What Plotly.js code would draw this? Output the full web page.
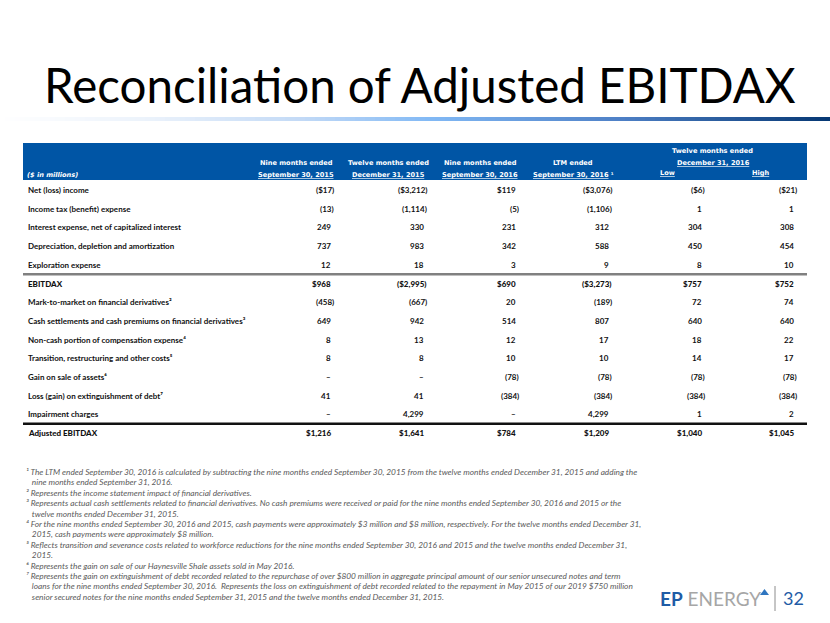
<!DOCTYPE html>
<html><head><meta charset="utf-8">
<script src="https://cdn.plot.ly/plotly-3.0.1.min.js"></script>
<style>html,body{margin:0;padding:0;background:#fff}</style>
</head><body><div id="chart" style="width:830px;height:623px"></div>
<script>
// ---------- DATA ----------
const titleText = "Reconciliation of Adjusted EBITDAX";
const unitsLabel = "($ in millions)";
const rowLabels = [
  "Net (loss) income",
  "Income tax (benefit) expense",
  "Interest expense, net of capitalized interest",
  "Depreciation, depletion and amortization",
  "Exploration expense",
  "EBITDAX",
  "Mark-to-market on financial derivatives²",
  "Cash settlements and cash premiums on financial derivatives³",
  "Non-cash portion of compensation expense⁴",
  "Transition, restructuring and other costs⁵",
  "Gain on sale of assets⁶",
  "Loss (gain) on extinguishment of debt⁷",
  "Impairment charges",
  "Adjusted EBITDAX"
];
const nineMonths2015   = [-17, -13, 249, 737, 12, 968, -458, 649, 8, 8, null, 41, null, 1216];
const twelveMonths2015 = [-3212, -1114, 330, 983, 18, -2995, -667, 942, 13, 8, null, 41, 4299, 1641];
const nineMonths2016   = [119, -5, 231, 342, 3, 690, 20, 514, 12, 10, -78, -384, null, 784];
const ltm2016          = [-3076, -1106, 312, 588, 9, -3273, -189, 807, 17, 10, -78, -384, 4299, 1209];
const fy2016Low        = [-6, 1, 304, 450, 8, 757, 72, 640, 18, 14, -78, -384, 1, 1040];
const fy2016High       = [-21, 1, 308, 454, 10, 752, 74, 640, 22, 17, -78, -384, 2, 1045];
const dollarRows = [0, 5, 13];
const totalRows = [5, 13];
const headerLine1 = ["Nine months ended", "Twelve months ended", "Nine months ended", "LTM ended"];
const headerLine2 = ["September 30, 2015", "December 31, 2015", "September 30, 2016", "September 30, 2016"];
const headerNote = ["", "", "", " ¹"];
const groupHeader = ["Twelve months ended", "December 31, 2016"];
const subHeaders = ["Low", "High"];
const footnotes = [
  "¹ The LTM ended September 30, 2016 is calculated by subtracting the nine months ended September 30, 2015 from the twelve months ended December 31, 2015 and adding the",
  "   nine months ended September 31, 2016.",
  "² Represents the income statement impact of financial derivatives.",
  "³ Represents actual cash settlements related to financial derivatives. No cash premiums were received or paid for the nine months ended September 30, 2016 and 2015 or the",
  "   twelve months ended December 31, 2015.",
  "⁴ For the nine months ended September 30, 2016 and 2015, cash payments were approximately $3 million and $8 million, respectively. For the twelve months ended December 31,",
  "   2015, cash payments were approximately $8 million.",
  "⁵ Reflects transition and severance costs related to workforce reductions for the nine months ended September 30, 2016 and 2015 and the twelve months ended December 31,",
  "   2015.",
  "⁶ Represents the gain on sale of our Haynesville Shale assets sold in May 2016.",
  "⁷ Represents the gain on extinguishment of debt recorded related to the repurchase of over $800 million in aggregate principal amount of our senior unsecured notes and term",
  "   loans for the nine months ended September 30, 2016.  Represents the loss on extinguishment of debt recorded related to the repayment in May 2015 of our 2019 $750 million",
  "   senior secured notes for the nine months ended September 31, 2015 and the twelve months ended December 31, 2015."
];
const logoMark = "EP";
const logoWord = "ENERGY";
const pageNumber = "32";

// ---------- LAYOUT HELPERS ----------
const columns = [nineMonths2015, twelveMonths2015, nineMonths2016, ltm2016, fy2016Low, fy2016High];
const colRight = [333, 426, 518, 611, 704, 796];
const headerCenters = [296, 388, 480, 573];
const subHeaderCenters = [667, 760];
const tableLeft = 23, tableRight = 807;
const rowY0 = 190, rowStep = 18.7;
const bodyFont = "Lato, 'Noto Sans', sans-serif";
const headFont = "'DejaVu Sans', sans-serif";

function fmt(v, dollar) {
  if (v === null) return "–";
  const s = Math.abs(v).toLocaleString("en-US");
  const d = (dollar ? "$" : "") + s;
  return v < 0 ? "(" + d + ")" : d;
}

const annotations = [];
const shapes = [];
function ann(o) {
  annotations.push(Object.assign({xref: "x", yref: "y", showarrow: false, yanchor: "middle"}, o));
}

// Title
ann({x: 42, y: 84.5, text: titleText, xanchor: "left",
     font: {family: bodyFont, size: 47.5, color: "#000"}});

// gradient rule under title
const gradStops = [[0, [255,255,255]], [150, [235,242,251]], [300, [195,218,246]], [430, [130,185,245]], [620, [78,128,198]], [830, [5,55,115]]];
function gradColor(x) {
  for (let i = 1; i < gradStops.length; i++) {
    if (x <= gradStops[i][0]) {
      const a = gradStops[i-1], b = gradStops[i];
      const t = (x - a[0]) / (b[0] - a[0]);
      const c = a[1].map((v, k) => Math.round(v + (b[1][k] - v) * t));
      return "rgb(" + c.join(",") + ")";
    }
  }
  return "rgb(5,55,115)";
}
for (let x = 0; x < 830; x += 5) {
  shapes.push({type: "rect", xref: "x", yref: "y", x0: x, x1: x + 5.5, y0: 117, y1: 121,
               line: {width: 0}, fillcolor: gradColor(x + 2.5), layer: "below"});
}

// Header band
shapes.push({type: "rect", xref: "x", yref: "y", x0: tableLeft, x1: tableRight, y0: 143, y1: 180,
             line: {width: 0}, fillcolor: "#0055A5", layer: "below"});
const hf = {family: headFont, size: 6.6, color: "#fff", weight: "bold"};
ann({x: tableLeft + 2, y: 175, text: "<i>" + unitsLabel + "</i>", xanchor: "left", font: hf});
headerCenters.forEach((cx, i) => {
  ann({x: cx, y: 163, text: headerLine1[i], xanchor: "center", font: hf});
  ann({x: cx, y: 175, text: "<u>" + headerLine2[i] + "</u>" + headerNote[i], xanchor: "center", font: hf});
});
ann({x: 712, y: 151, text: groupHeader[0], xanchor: "center", font: hf});
ann({x: 713, y: 163, text: "<u>" + groupHeader[1] + "</u>", xanchor: "center", font: hf});
subHeaderCenters.forEach((cx, i) => {
  ann({x: cx, y: 173, text: "<u>" + subHeaders[i] + "</u>", xanchor: "center", font: hf});
});

// Body rows
rowLabels.forEach((lab, r) => {
  const y = rowY0 + r * rowStep;
  const isTotal = totalRows.includes(r);
  const f = {family: bodyFont, size: 8, color: "#111", weight: isTotal ? 900 : "bold"};
  ann({x: tableLeft + 3, y: y, text: lab, xanchor: "left", font: f});
  columns.forEach((col, c) => {
    const v = col[r];
    const txt = fmt(v, dollarRows.includes(r));
    const xr = colRight[c] + (v !== null && v < 0 ? 3 : 0);
    ann({x: xr, y: y, text: txt, xanchor: "right", font: f});
  });
});
// separator lines
const sepA = rowY0 + 4.5 * rowStep;
const sepB = rowY0 + 12.5 * rowStep;
shapes.push({type: "line", xref: "x", yref: "y", x0: tableLeft, x1: tableRight, y0: sepA, y1: sepA,
             line: {color: "#808080", width: 2.5}});
shapes.push({type: "line", xref: "x", yref: "y", x0: tableLeft, x1: tableRight, y0: sepB, y1: sepB,
             line: {color: "#111", width: 2.5}});

// Footnotes
footnotes.forEach((t, i) => {
  ann({x: tableLeft + 1, y: 472 + i * 10.4, text: "<i>" + t + "</i>", xanchor: "left",
       font: {family: bodyFont, size: 8.3, color: "#595959"}});
});

// Logo
ann({x: 658, y: 598, xanchor: "left",
     text: "<b><span style='color:#1F5CA6'>" + logoMark + "</span></b> " + logoWord,
     font: {family: bodyFont, size: 19, color: "#A6A6A6"}});
shapes.push({type: "path", xref: "x", yref: "y", path: "M 760 595 L 764.5 589 L 769 595 Z",
             fillcolor: "#2E75C0", line: {width: 0}});
shapes.push({type: "line", xref: "x", yref: "y", x0: 775, x1: 775, y0: 586, y1: 611,
             line: {color: "#8C8C8C", width: 1}});
ann({x: 781, y: 598, xanchor: "left", text: pageNumber,
     font: {family: bodyFont, size: 18, color: "#1F5CA6"}});

const layout = {
  width: 830, height: 623, margin: {l: 0, r: 0, t: 0, b: 0},
  paper_bgcolor: "#fff", plot_bgcolor: "#fff", showlegend: false,
  xaxis: {range: [0, 830], visible: false, fixedrange: true},
  yaxis: {range: [623, 0], visible: false, fixedrange: true},
  annotations: annotations, shapes: shapes
};
Plotly.newPlot("chart", [{x: [], y: [], type: "scatter"}], layout, {staticPlot: true, displayModeBar: false});
</script></body></html>
